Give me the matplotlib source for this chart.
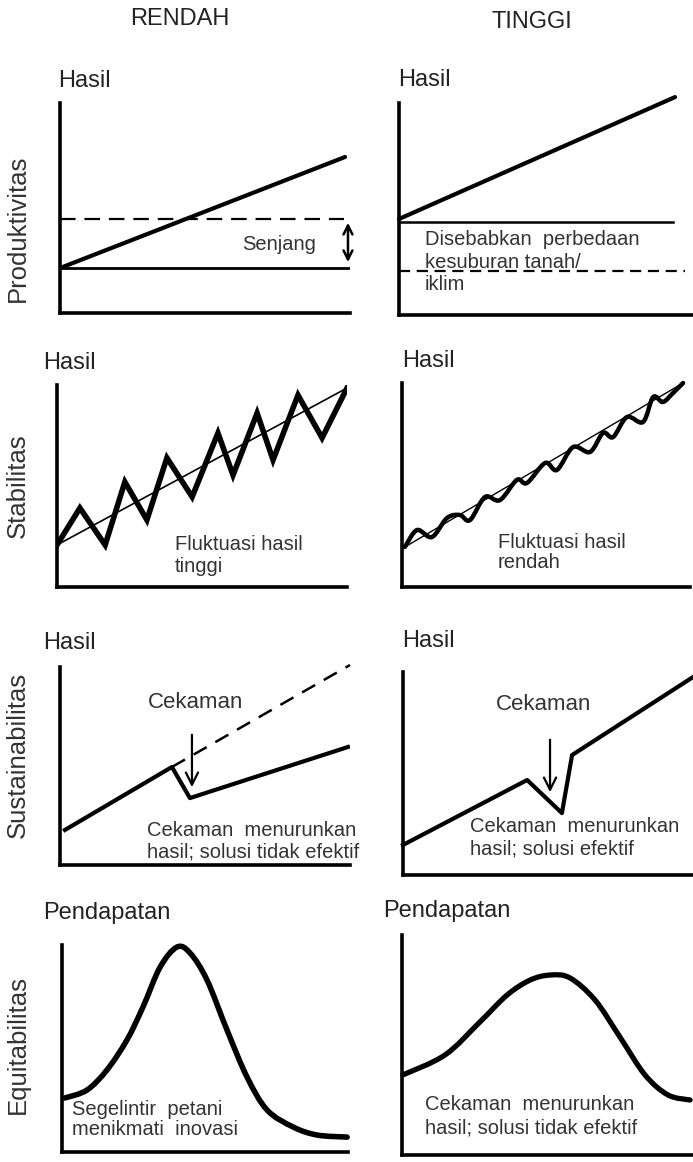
import matplotlib.pyplot as plt
from matplotlib.path import Path
from matplotlib.patches import PathPatch

plt.rcParams['font.family'] = ['Liberation Sans', 'DejaVu Sans']

# ---- data (each panel uses a 0-10 x 0-10 scale) ----
col_titles = ['RENDAH', 'TINGGI']
row_labels = ['Produktivitas', 'Stabilitas', 'Sustainabilitas', 'Equitabilitas']

# Produktivitas
prod_lo_x = [0.0, 9.83]
prod_lo_trend = [2.14, 7.43]
prod_lo_base = 2.14
prod_lo_potential = 4.48
prod_hi_x = [0.0, 9.39]
prod_hi_trend = [4.53, 10.28]
prod_hi_base = 4.39
prod_hi_other = 2.08

# Stabilitas
stab_lo_x = [0.0, 0.79, 1.66, 2.34, 3.10, 3.79, 4.66, 5.55, 6.07, 6.90, 7.45, 8.31, 9.14, 10.0]
stab_lo_y = [2.08, 3.91, 2.08, 5.20, 3.32, 6.39, 4.46, 7.62, 5.54, 8.61, 6.29, 9.50, 7.38, 9.85]
stab_lo_trend_x = [0.0, 10.0]
stab_lo_trend_y = [2.08, 9.85]
stab_hi_x = [0.10, 0.52, 1.04, 1.56, 2.01, 2.36, 2.88, 3.40, 3.99, 4.34, 4.97, 5.38,
             5.94, 6.53, 6.98, 7.33, 7.81, 8.37, 8.72, 9.06, 9.41, 9.76]
stab_hi_y = [1.96, 2.79, 2.45, 3.38, 3.53, 3.28, 4.41, 4.26, 5.25, 5.10, 6.08, 5.74,
             6.86, 6.62, 7.55, 7.35, 8.33, 8.09, 9.31, 9.07, 9.51, 10.0]
stab_hi_trend_x = [0.10, 9.76]
stab_hi_trend_y = [1.96, 10.0]

# Sustainabilitas
sust_lo_x = [0.17, 3.86, 4.48, 9.93]
sust_lo_y = [1.77, 4.95, 3.38, 5.96]
sust_lo_pot_x = [3.86, 10.0]
sust_lo_pot_y = [4.95, 10.1]
sust_hi_x = [0.0, 4.28, 5.48, 5.83, 10.0]
sust_hi_y = [1.48, 4.68, 3.05, 5.91, 9.75]

# Equitabilitas
eq_lo_x = [0.10, 0.87, 1.57, 2.27, 2.83, 3.43, 4.02, 4.48, 5.07, 5.77, 6.47, 7.17, 8.08, 8.92, 9.97]
eq_lo_y = [2.61, 2.99, 3.96, 5.41, 7.00, 8.93, 9.90, 9.61, 8.31, 5.89, 3.62, 2.03, 1.21, 0.82, 0.72]
eq_hi_x = [0.03, 1.48, 2.68, 3.61, 4.40, 5.09, 5.77, 6.63, 7.49, 8.35, 9.14, 9.90]
eq_hi_y = [3.64, 4.55, 6.05, 7.27, 7.95, 8.18, 8.05, 7.05, 5.36, 3.64, 2.73, 2.50]

# ---- layout ----
W, H = 693, 1162
fig = plt.figure(figsize=(W / 100, H / 100), dpi=100)

# axis origin (x, y), width, height in pixels
boxes = [
    [(60, 313, 290, 210), (399, 315, 294, 212)],
    [(57, 587, 290, 202), (402, 587, 288, 204)],
    [(60, 865, 290, 198), (403, 875, 290, 203)],
    [(62, 1152, 286, 207), (402, 1155, 291, 220)],
]


def make_ax(box):
    ox, oy, w, h = box
    ax = fig.add_axes([ox / W, 1 - oy / H, w / W, h / H])
    ax.set_xlim(0, 10)
    ax.set_ylim(0, 10)
    ax.set_xticks([])
    ax.set_yticks([])
    ax.patch.set_visible(False)
    for s in ['top', 'right']:
        ax.spines[s].set_visible(False)
    for s in ['left', 'bottom']:
        ax.spines[s].set_linewidth(2.6)
        ax.spines[s].set_color('black')
    return ax


def smooth_curve(ax, xs, ys, lw):
    # hand-drawn look: Catmull-Rom through the read points, drawn as bezier path
    pts = list(zip(xs, ys))
    verts = [pts[0]]
    codes = [Path.MOVETO]
    n = len(pts)
    for i in range(n - 1):
        p0 = pts[max(i - 1, 0)]
        p1 = pts[i]
        p2 = pts[i + 1]
        p3 = pts[min(i + 2, n - 1)]
        c1 = (p1[0] + (p2[0] - p0[0]) / 6, p1[1] + (p2[1] - p0[1]) / 6)
        c2 = (p2[0] - (p3[0] - p1[0]) / 6, p2[1] - (p3[1] - p1[1]) / 6)
        verts += [c1, c2, p2]
        codes += [Path.CURVE4] * 3
    ax.add_patch(PathPatch(Path(verts, codes), fill=False, lw=lw,
                           edgecolor='black', capstyle='round', clip_on=False))


axes = [[make_ax(b) for b in row] for row in boxes]

tk = dict(fontsize=14.5, color='#333333', va='baseline', ha='left', clip_on=False)
lbl = dict(fontsize=17, color='#222222', va='baseline', ha='left', clip_on=False)

# column titles and row labels
fig.text(180 / W, 1 - 19 / H, col_titles[0], fontsize=17, ha='center', va='center', color='#222222')
fig.text(532 / W, 1 - 22 / H, col_titles[1], fontsize=17, ha='center', va='center', color='#222222')
for name, yc in zip(row_labels, [228, 486, 755, 1045]):
    fig.text(18 / W, 1 - yc / H, name, fontsize=18.5, rotation=90,
             ha='center', va='center', color='#333333')

# row 1: Produktivitas
ax = axes[0][0]
ax.text(-0.07, 10.76, 'Hasil', **lbl)
ax.plot(prod_lo_x, prod_lo_trend, color='black', lw=3, solid_capstyle='round')
ax.plot([0, 10], [prod_lo_base] * 2, color='black', lw=2)
ax.plot([0, 9.8], [prod_lo_potential] * 2, color='black', lw=1.6, ls=(0, (7, 4)))
ax.annotate('', xy=(9.93, 2.29), xytext=(9.93, 4.43),
            arrowprops=dict(arrowstyle='<->', lw=1.8, color='black', mutation_scale=16),
            annotation_clip=False)
ax.text(6.28, 3.0, 'Senjang', **tk)

ax = axes[0][1]
ax.text(-0.03, 10.80, 'Hasil', **lbl)
ax.plot(prod_hi_x, prod_hi_trend, color='black', lw=3, clip_on=False, solid_capstyle='round')
ax.plot([0, 9.32], [prod_hi_base] * 2, color='black', lw=1.8)
ax.plot([0, 9.73], [prod_hi_other] * 2, color='black', lw=1.6, ls=(0, (5, 3)))
for txt, y in zip(['Disebabkan  perbedaan', 'kesuburan tanah/', 'iklim'], [3.30, 2.22, 1.18]):
    ax.text(0.88, y, txt, **tk)

# row 2: Stabilitas
ax = axes[1][0]
ax.text(-0.48, 10.79, 'Hasil', **lbl)
ax.plot(stab_lo_x, stab_lo_y, color='black', lw=4, solid_joinstyle='miter')
ax.plot(stab_lo_trend_x, stab_lo_trend_y, color='black', lw=1.2)
ax.text(4.07, 1.83, 'Fluktuasi hasil', **tk)
ax.text(4.07, 0.74, 'tinggi', **tk)

ax = axes[1][1]
ax.text(0.0, 10.78, 'Hasil', **lbl)
smooth_curve(ax, stab_hi_x, stab_hi_y, 3.2)
ax.plot(stab_hi_trend_x, stab_hi_trend_y, color='black', lw=1.0, clip_on=False)
ax.text(3.33, 1.91, 'Fluktuasi hasil', **tk)
ax.text(3.33, 0.93, 'rendah', **tk)

# row 3: Sustainabilitas
ax = axes[2][0]
ax.text(-0.59, 10.91, 'Hasil', **lbl)
ax.plot(sust_lo_x, sust_lo_y, color='black', lw=3)
ax.plot(sust_lo_pot_x, sust_lo_pot_y, color='black', lw=1.8, ls=(0, (6, 4)), clip_on=False)
ax.annotate('', xy=(4.55, 3.79), xytext=(4.55, 6.72),
            arrowprops=dict(arrowstyle='->', lw=1.6, color='black', mutation_scale=22))
ax.text(4.66, 7.93, 'Cekaman', fontsize=16, color='#333333', ha='center', va='baseline')
ax.text(3.0, 1.46, 'Cekaman  menurunkan', **tk)
ax.text(3.0, 0.40, 'hasil; solusi tidak efektif', **tk)

ax = axes[2][1]
ax.text(-0.03, 11.23, 'Hasil', **lbl)
ax.plot(sust_hi_x, sust_hi_y, color='black', lw=3, clip_on=False)
ax.annotate('', xy=(5.07, 3.94), xytext=(5.07, 6.80),
            arrowprops=dict(arrowstyle='->', lw=1.6, color='black', mutation_scale=22))
ax.text(4.83, 8.13, 'Cekaman', fontsize=16, color='#333333', ha='center', va='baseline')
ax.text(2.31, 2.12, 'Cekaman  menurunkan', **tk)
ax.text(2.31, 0.99, 'hasil; solusi efektif', **tk)

# row 4: Equitabilitas
ax = axes[3][0]
ax.text(-0.66, 11.26, 'Pendapatan', **lbl)
smooth_curve(ax, eq_lo_x, eq_lo_y, 4)
ax.text(0.35, 1.79, 'Segelintir  petani', **tk)
ax.text(0.35, 0.82, 'menikmati  inovasi', **tk)

ax = axes[3][1]
ax.text(-0.65, 10.82, 'Pendapatan', **lbl)
smooth_curve(ax, eq_hi_x, eq_hi_y, 3.8)
ax.text(0.79, 2.05, 'Cekaman  menurunkan', **tk)
ax.text(0.79, 1.0, 'hasil; solusi tidak efektif', **tk)

fig.savefig('out.png', dpi=100, facecolor='white')
